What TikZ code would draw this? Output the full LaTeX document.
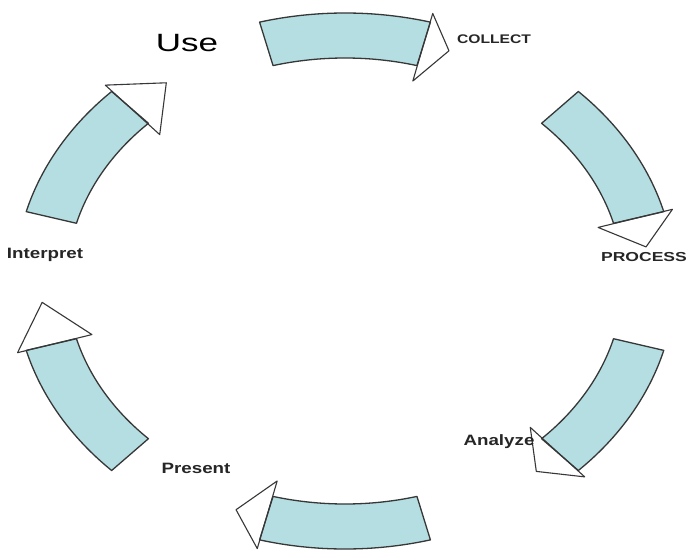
\documentclass[tikz,border=0pt]{standalone}
\usepackage{fontspec}
\setmainfont{Liberation Sans}

\definecolor{cycleFill}{RGB}{180,222,226}
\definecolor{cycleLine}{RGB}{55,55,55}

% one piece of the ring: #1 start angle, #2 end angle (tip side), #3 tip angle
\newcommand{\cyclearc}[3]{%
  \draw[arcbox] (#1:330 and 268) arc[start angle=#1, end angle=#2, x radius=330, y radius=268]
    -- (#2:278 and 223) arc[start angle=#2, end angle=#1, x radius=278, y radius=223] -- cycle;%
  \draw[arctip] (#2:262 and 207) -- (#3:304 and 245) -- (#2:339 and 277) -- cycle;%
}

\begin{document}
\begin{tikzpicture}[
    x=1pt, y=1pt,
    arcbox/.style={draw=cycleLine, fill=cycleFill, line width=1.3pt, line join=round},
    arctip/.style={draw=cycleLine, line width=1.1pt, line join=round},
    steplabel/.style={font=\bfseries\fontsize{15}{15}\selectfont, xscale=1.25,
                      text=black!85, inner sep=0pt}
  ]
  % Background
  \useasboundingbox[fill=white] (-345,-271) rectangle (343,281);

  % Ring pieces, clockwise
  \cyclearc{105}{75}{70}
  \cyclearc{45}{15}{8}
  \cyclearc{-15}{-45}{-51}
  \cyclearc{-75}{-105}{-111}
  \cyclearc{-135}{-165}{-175}
  \cyclearc{165}{135}{126}

  % Labels
  \node[font=\fontsize{25}{25}\selectfont, xscale=1.4, inner sep=0pt] (use) at (-158,238) {Use};
  \node[steplabel, font=\bfseries\fontsize{12.5}{12.5}\selectfont] (collect) at (149,242) {COLLECT};
  \node[steplabel, font=\bfseries\fontsize{13}{13}\selectfont, xscale=1.08] (process) at (299,24) {PROCESS};
  \node[steplabel] (analyze) at (154,-161) {Analyze};
  \node[steplabel] (present) at (-149,-187) {Present};
  \node[steplabel] (interpret) at (-300,26) {Interpret};
\end{tikzpicture}
\end{document}
